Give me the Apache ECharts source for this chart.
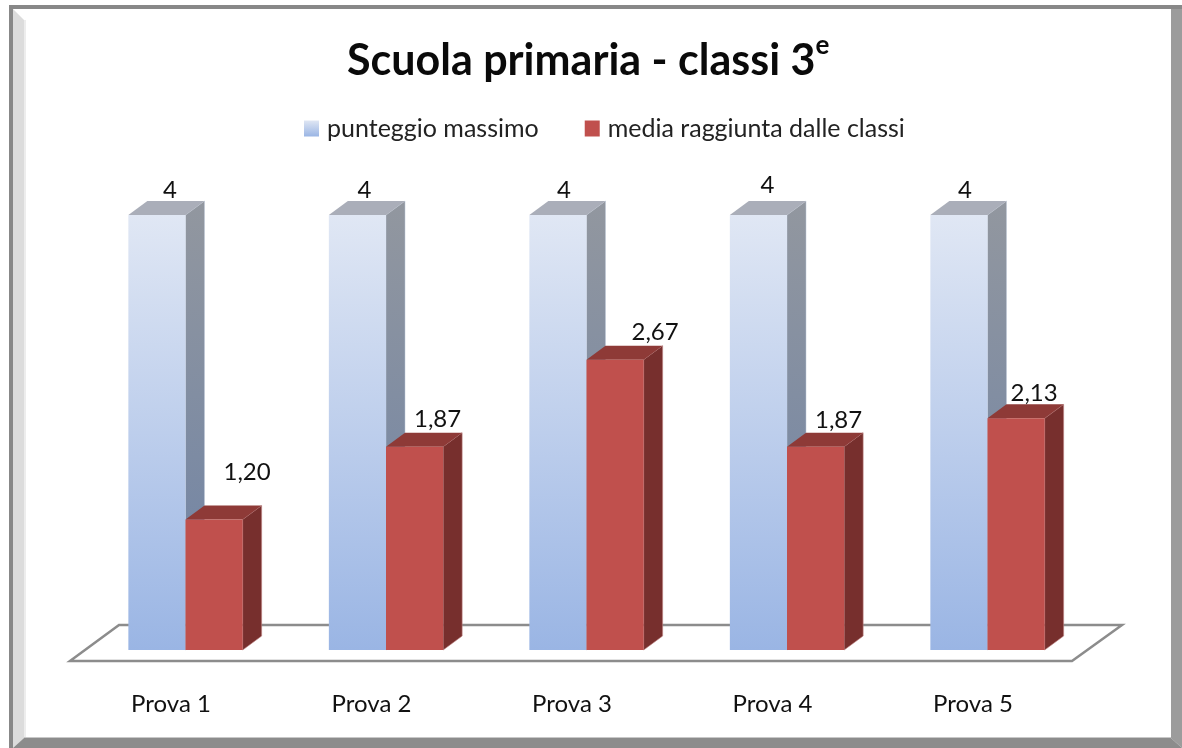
<!DOCTYPE html>
<html style="height: 100%">
<head>
    <meta charset="utf-8">
    <script type="text/javascript" src="https://cdn.jsdelivr.net/npm/echarts@6/dist/echarts.min.js"></script>
</head>
<body style="height: 100%; margin: 0; background: #fff">
<div id="container" style="height: 748px;width: 1182px;position: absolute;top: 0;left: 0;"></div>
<script type="text/javascript">
    var categories = ['Prova 1', 'Prova 2', 'Prova 3', 'Prova 4', 'Prova 5'];
    var maxScore = [4, 4, 4, 4, 4];
    var meanScore = [1.20, 1.87, 2.67, 1.87, 2.13];

    var fontName = 'Lato';
    var barShare = 0.285;   // bar width as part of the category band
    var depthX = 19, depthY = 14;
    // the value labels sit where they were dragged in the original, not on the bars
    var maxLabelShift = [[13, -25], [7, -25], [6, -25], [9, -30], [6, -25]];
    var meanLabelShift = [[33, -47], [23, -27], [40, -27], [23, -26], [18, -25]];

    function vGrad(top, bottom) {
        return new echarts.graphic.LinearGradient(0, 0, 0, 1, [
            {offset: 0, color: top},
            {offset: 1, color: bottom}
        ]);
    }

    var styles = [
        {
            front: vGrad('#e0e7f4', '#9ab5e4'),
            side: vGrad('#92979f', '#6d82a6'),
            top: '#aaaeb9',
            edge: 'rgba(190,200,215,0.5)',
            shift: maxLabelShift
        },
        {
            front: '#c0504d',
            side: '#772f2d',
            top: '#8e3a37',
            edge: 'rgba(190,130,130,0.6)',
            shift: meanLabelShift
        }
    ];

    function makeRenderItem(seriesIdx) {
        var st = styles[seriesIdx];
        return function (params, api) {
            var i = api.value(0);
            var top = api.coord([i, api.value(1)]);
            var base = api.coord([i, 0]);
            var band = api.size([1, 0])[0];
            var w = band * barShare;
            // the band centre carries the tick label, the bar pair stands right of it
            var x0 = base[0] + 14.5 + (seriesIdx === 0 ? -w : 0);
            var x1 = x0 + w;
            var v = api.value(1);
            var label = v === 4 ? '4' : v.toFixed(2).replace('.', ',');
            var shift = st.shift[i];
            return {
                type: 'group',
                children: [
                    {
                        type: 'polygon',
                        shape: {points: [[x1, top[1]], [x1 + depthX, top[1] - depthY], [x1 + depthX, base[1] - depthY], [x1, base[1]]]},
                        style: {fill: st.side, stroke: st.edge, lineWidth: 1}
                    },
                    {
                        type: 'polygon',
                        shape: {points: [[x0, top[1]], [x0 + depthX, top[1] - depthY], [x1 + depthX, top[1] - depthY], [x1, top[1]]]},
                        style: {fill: st.top}
                    },
                    {
                        type: 'rect',
                        shape: {x: x0, y: top[1], width: w, height: base[1] - top[1]},
                        style: {fill: st.front}
                    },
                    {
                        type: 'text',
                        style: {
                            x: (x0 + x1) / 2 + shift[0],
                            y: top[1] + shift[1],
                            text: label,
                            fill: '#111',
                            font: '24px ' + fontName,
                            align: 'center',
                            verticalAlign: 'middle'
                        }
                    }
                ]
            };
        };
    }

    function toRows(values) {
        var rows = [];
        for (var i = 0; i < values.length; i++) {
            rows.push([i, values[i]]);
        }
        return rows;
    }

    var dom = document.getElementById('container');
    var myChart = echarts.init(dom, null, {renderer: 'canvas'});
    var option = {
        backgroundColor: '#fff',
        animation: false,
        title: {
            text: '{a|Scuola primaria - classi 3}{e|e}',
            left: 342,
            top: 28,
            textStyle: {
                rich: {
                    a: {fontFamily: fontName, fontWeight: 'bold', fontSize: 43, color: '#0a0a0a', lineHeight: 56},
                    e: {fontFamily: fontName, fontWeight: 'bold', fontSize: 26, color: '#0a0a0a', lineHeight: 56, verticalAlign: 'top'}
                }
            }
        },
        legend: {
            left: 299,
            top: 111,
            icon: 'rect',
            itemWidth: 15,
            itemHeight: 16,
            itemGap: 46,
            textStyle: {fontFamily: fontName, fontSize: 25, color: '#222', padding: [0, 0, 0, 3]},
            data: [
                {name: 'punteggio massimo', itemStyle: {color: vGrad('#dfe6f3', '#9ab5e4')}},
                {name: 'media raggiunta dalle classi', itemStyle: {color: '#c0504d'}}
            ]
        },
        grid: {left: 70.75, right: 108.75, top: 215, bottom: 98, containLabel: false},
        xAxis: {
            type: 'category',
            data: categories,
            axisLine: {show: false},
            axisTick: {show: false},
            axisLabel: {fontFamily: fontName, fontSize: 24, color: '#111', margin: 42}
        },
        yAxis: {type: 'value', min: 0, max: 4, interval: 1, show: false},
        // frame of the picture and the chart floor
        graphic: [
            {type: 'polygon', z: 0, shape: {points: [[9, 5], [1182, 5], [1182, 9], [9, 9]]}, style: {fill: '#888'}},
            {type: 'polygon', z: 0, shape: {points: [[9, 5], [13, 5], [13, 748], [9, 748]]}, style: {fill: '#888'}},
            {type: 'polygon', z: 0, shape: {points: [[13, 9], [24, 20], [24, 738], [13, 748]]}, style: {fill: '#dcdcdc'}},
            {type: 'rect', z: 0, shape: {x: 24, y: 20, width: 2, height: 718}, style: {fill: '#ededed'}},
            {type: 'polygon', z: 0, shape: {points: [[1171, 9], [1182, 9], [1182, 748], [1171, 738]]}, style: {fill: '#9c9c9c'}},
            {type: 'polygon', z: 0, shape: {points: [[24, 738], [1171, 738], [1182, 748], [13, 748]]}, style: {fill: '#8c8c8c'}},
            {type: 'rect', z: 0, shape: {x: 24, y: 737, width: 1147, height: 1}, style: {fill: '#c8c8c8'}},
            {
                type: 'polygon', z: 0,
                shape: {points: [[70, 661], [119, 625], [1122, 625], [1072, 661]]},
                style: {fill: '#fff', stroke: '#8c8c8c', lineWidth: 2.5}
            }
        ],
        series: [
            {
                name: 'punteggio massimo',
                type: 'custom',
                renderItem: makeRenderItem(0),
                encode: {x: 0, y: 1},
                itemStyle: {color: '#b9cbea'},
                data: toRows(maxScore)
            },
            {
                name: 'media raggiunta dalle classi',
                type: 'custom',
                renderItem: makeRenderItem(1),
                encode: {x: 0, y: 1},
                itemStyle: {color: '#c0504d'},
                data: toRows(meanScore)
            }
        ]
    };
    myChart.setOption(option, true);
</script>
</body>
</html>
